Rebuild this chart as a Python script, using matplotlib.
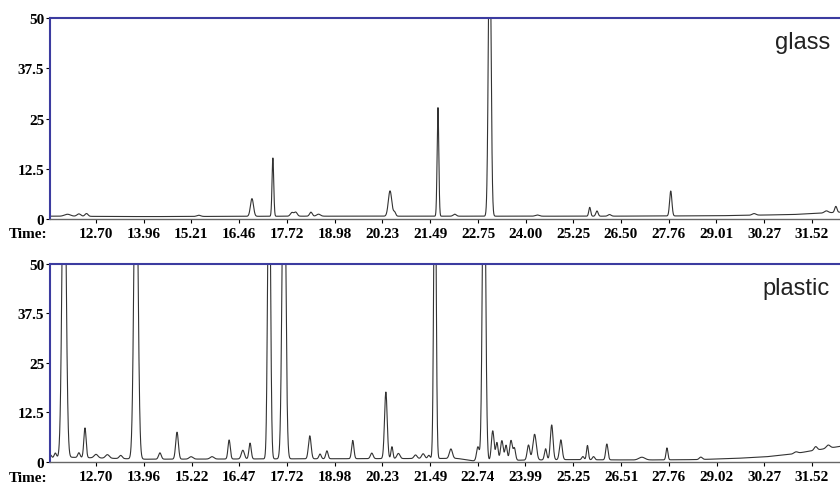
import numpy as np
import matplotlib.pyplot as plt

# glass: peak retention times (min), heights, widths (sigma, min)
glass_rt = [11.95, 12.25, 12.45, 15.4, 16.80, 17.35, 17.85, 17.95, 18.35, 18.55,
            20.43, 20.55, 21.69, 22.13, 23.05, 24.3, 25.68, 25.87, 26.2, 27.81,
            30.0, 31.9, 32.15]
glass_h = [0.5, 0.6, 0.7, 0.3, 4.4, 14.5, 0.9, 1.0, 1.0, 0.5,
           6.3, 1.0, 27.0, 0.5, 75.0, 0.3, 2.2, 1.3, 0.4, 6.2,
           0.4, 0.5, 1.5]
glass_w = [0.08, 0.05, 0.04, 0.05, 0.04, 0.022, 0.04, 0.04, 0.035, 0.05,
           0.045, 0.03, 0.022, 0.04, 0.035, 0.05, 0.025, 0.03, 0.04, 0.03,
           0.05, 0.05, 0.03]
glass_base_t = [11.49, 14.0, 18.0, 22.0, 26.0, 29.0, 31.0, 32.7]
glass_base_v = [0.7, 0.6, 0.7, 0.7, 0.7, 0.8, 1.1, 1.9]

# plastic
plastic_rt = [11.50, 11.63, 11.86, 12.25, 12.41, 12.7, 13.0, 13.35, 13.75, 14.38,
              14.83, 15.2, 15.75, 16.20, 16.56, 16.75, 17.25, 17.64, 18.32, 18.59,
              18.77, 19.45, 19.95, 20.32, 20.48, 20.65, 21.1, 21.3, 21.45, 21.61,
              22.03, 22.74, 22.90, 23.13, 23.24, 23.37, 23.48, 23.61, 23.70, 24.07,
              24.23, 24.52, 24.68, 24.92, 25.50, 25.62, 25.78, 26.13, 27.05, 27.71,
              28.60, 31.10, 31.62, 31.95]
plastic_h = [0.8, 1.2, 90.0, 1.2, 7.5, 0.9, 0.9, 0.8, 90.0, 1.6,
             6.8, 0.6, 0.6, 4.8, 2.2, 4.0, 90.0, 90.0, 5.8, 1.2,
             2.0, 4.6, 1.4, 16.8, 3.0, 1.3, 0.9, 1.2, 0.8, 90.0,
             2.4, 3.5, 90.0, 7.5, 4.5, 5.0, 3.8, 5.0, 3.0, 3.8,
             6.5, 2.8, 8.8, 5.0, 0.8, 3.6, 0.8, 4.0, 0.7, 3.0,
             0.6, 0.4, 0.9, 0.8]
plastic_w = [0.03, 0.03, 0.05, 0.03, 0.03, 0.05, 0.05, 0.04, 0.05, 0.035,
             0.035, 0.05, 0.05, 0.03, 0.04, 0.03, 0.035, 0.045, 0.035, 0.03,
             0.03, 0.03, 0.035, 0.035, 0.025, 0.04, 0.04, 0.04, 0.03, 0.03,
             0.04, 0.035, 0.04, 0.035, 0.03, 0.035, 0.03, 0.035, 0.03, 0.035,
             0.045, 0.03, 0.035, 0.035, 0.03, 0.025, 0.03, 0.03, 0.08, 0.025,
             0.04, 0.05, 0.04, 0.05]
plastic_base_t = [11.49, 12.0, 14.0, 18.0, 22.2, 22.6, 25.0, 27.0, 28.5, 29.5, 30.3, 31.0, 31.5, 32.3, 32.7]
plastic_base_v = [1.0, 1.2, 0.7, 0.8, 0.9, 0.3, 0.6, 0.5, 0.6, 0.9, 1.3, 2.0, 2.8, 4.0, 4.3]

glass_ticks = ["12.70", "13.96", "15.21", "16.46", "17.72", "18.98", "20.23", "21.49",
               "22.75", "24.00", "25.25", "26.50", "27.76", "29.01", "30.27", "31.52"]
plastic_ticks = ["12.70", "13.96", "15.22", "16.47", "17.72", "18.98", "20.23", "21.49",
                 "22.74", "23.99", "25.25", "26.51", "27.76", "29.02", "30.27", "31.52"]
y_ticks = [0, 12.5, 25, 37.5, 50]
y_labels = ["0", "12.5", "25", "37.5", "50"]

t = np.linspace(11.49, 32.7, 7000)


def trace(rt, h, w, bt, bv):
    y = np.interp(t, bt, bv)
    for c, a, s in zip(rt, h, w):
        y = y + a * np.exp(-0.5 * ((t - c) / s) ** 2)
    return y


blue = "#3c3ca0"
serif = "Liberation Serif"

fig = plt.figure(figsize=(8.4, 4.89), dpi=100)
panels = [
    (0.5501, 0.411, glass_rt, glass_h, glass_w, glass_base_t, glass_base_v, glass_ticks, "glass", 0.521),
    (0.0532, 0.405, plastic_rt, plastic_h, plastic_w, plastic_base_t, plastic_base_v, plastic_ticks, "plastic", 0.021),
]
for bottom, height, rt, h, w, bt, bv, labels, name, ty in panels:
    ax = fig.add_axes([0.0595, bottom, 0.96, height])
    ax.plot(t, trace(rt, h, w, bt, bv), color="#333333", lw=0.8)
    ax.set_xlim(11.49, 32.69)
    ax.set_ylim(0, 50)
    for s in ["left", "top"]:
        ax.spines[s].set_color(blue)
        ax.spines[s].set_linewidth(1.5)
    ax.spines["right"].set_visible(False)
    ax.spines["bottom"].set_color("#666666")
    ax.spines["bottom"].set_linewidth(1.0)
    ax.set_yticks(y_ticks)
    ax.set_yticklabels(y_labels, fontfamily=serif, fontweight="bold", fontsize=11)
    ax.set_xticks([float(v) for v in labels])
    ax.set_xticklabels(labels, fontfamily=serif, fontweight="bold", fontsize=11)
    ax.tick_params(axis="y", length=3, width=0.8, pad=1, colors="black")
    ax.tick_params(axis="x", length=3, width=0.8, pad=2.5, colors="black")
    ax.text(0.967, 0.88, name, transform=ax.transAxes, ha="right", va="center",
            fontsize=17, fontfamily="Liberation Sans", color="#222222")
    fig.text(0.01, ty, "Time:", fontfamily=serif, fontweight="bold", fontsize=11,
             ha="left", va="center")

fig.savefig("out.png", dpi=100)
